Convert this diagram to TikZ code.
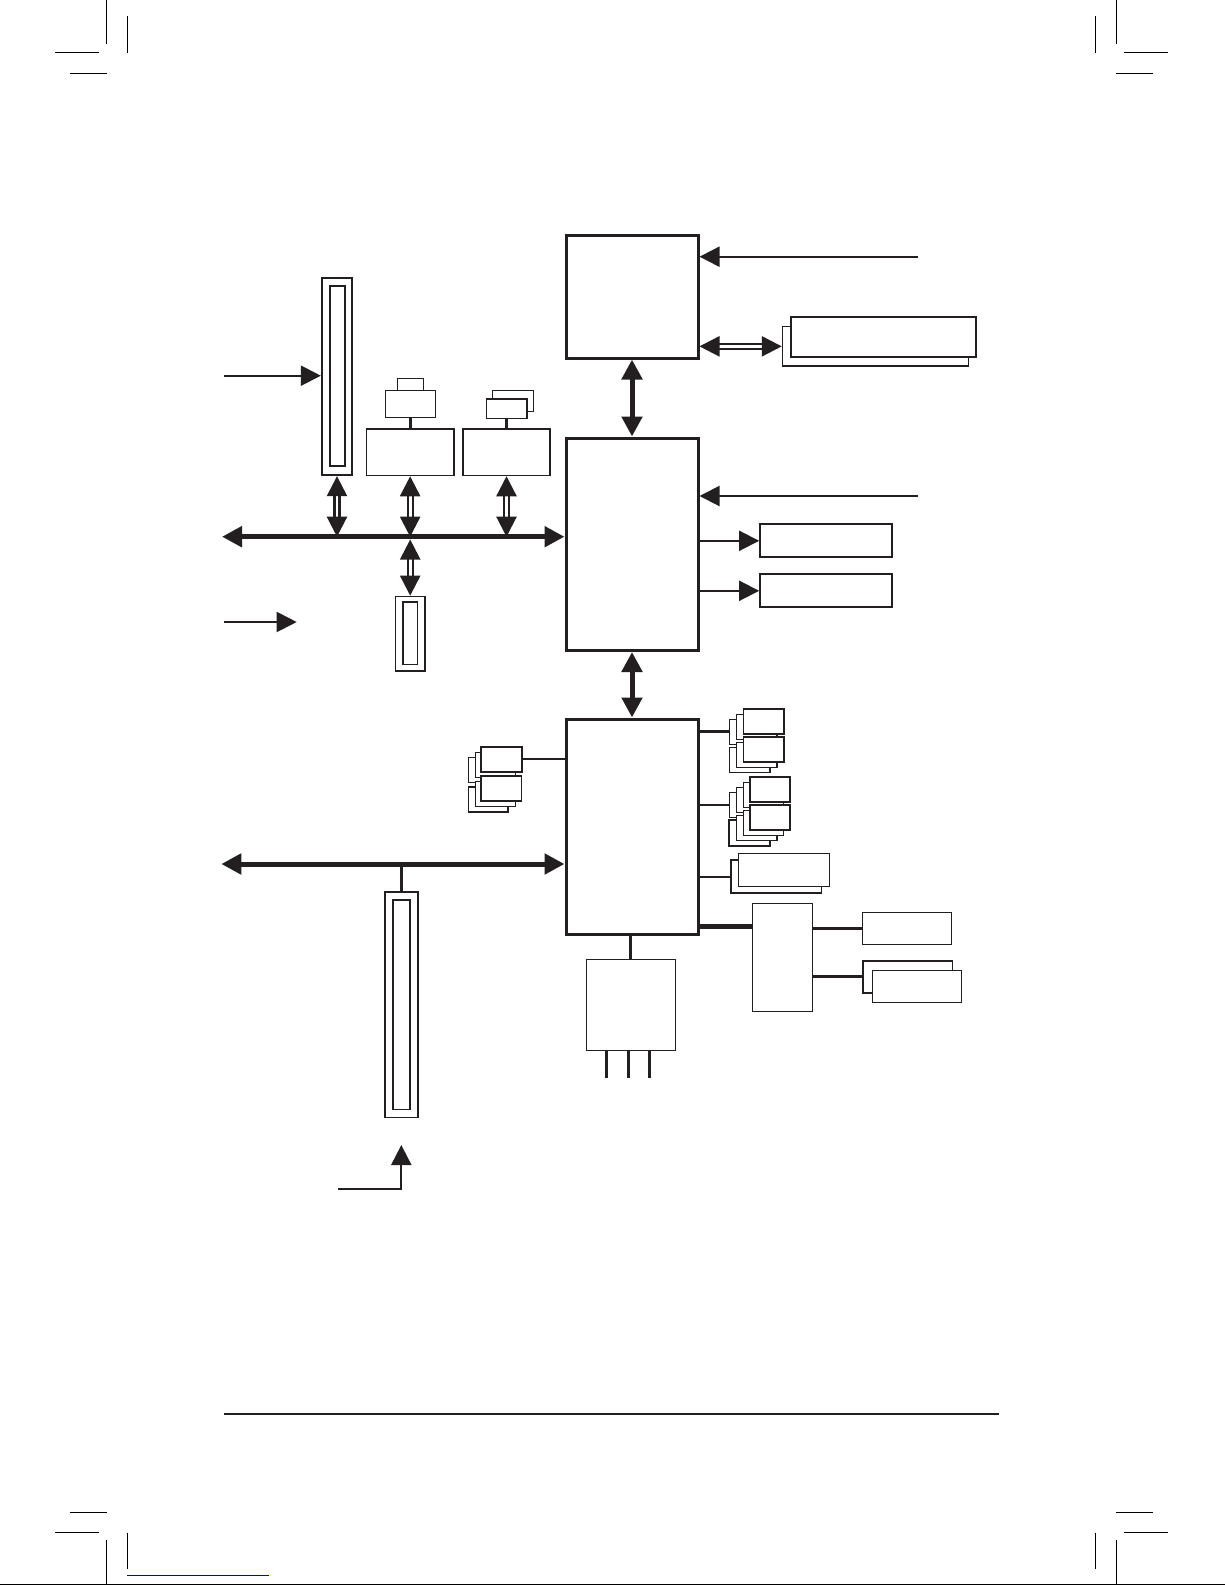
\documentclass[tikz,border=0pt]{standalone}
\usetikzlibrary{arrows.meta,fit}
\definecolor{ink}{RGB}{35,31,32}
\definecolor{lnk}{RGB}{0,0,204}
\newcommand\bx[6][blk]{\node[#1, fit={(#3,#4) (#5,#6)}] (#2) {};}
\begin{document}
\begin{tikzpicture}[x=1pt,y=-1pt,
  >={Triangle[length=20pt,width=20pt]},
  every node/.style={inner sep=0pt},
  chip/.style={draw=ink, line width=3pt, fill=white},
  blk/.style={draw=ink, line width=1.7pt, fill=white},
  mid/.style={draw=ink, line width=1.3pt, fill=white},
  thin/.style={draw=ink, line width=1.1pt, fill=white},
  bus/.style={draw=ink, line width=5pt, <->},
  link/.style={draw=ink, line width=2pt},
  wire/.style={draw=ink, line width=3pt},
  heavy/.style={draw=ink, line width=4.5pt},
  dbl/.style={draw=ink, double=white, line width=2.3pt, double distance=2.7pt, <->},
  fat/.style={draw=ink, line width=5pt, <->},
  crop/.style={draw=black, line width=1pt}]
\useasboundingbox (0,0) rectangle (1225,1585);
\fill[white] (0,0) rectangle (1225,1585);

% crop marks
\draw[crop] (106.7,0) -- (106.7,44);
\draw[crop] (127.3,16) -- (127.3,52.7);
\draw[crop] (55,52.3) -- (99,52.3);
\draw[crop] (70,73.3) -- (106.7,73.3);
\draw[crop] (1095.3,16) -- (1095.3,52.7);
\draw[crop] (1116.7,0) -- (1116.7,44);
\draw[crop] (1124,52.3) -- (1167.7,52.3);
\draw[crop] (1116,73.3) -- (1152.7,73.3);
\draw[crop] (70,1512.3) -- (106.7,1512.3);
\draw[crop] (55,1532.3) -- (99,1532.3);
\draw[crop] (106.7,1540) -- (106.7,1585);
\draw[crop] (127.3,1532.7) -- (127.3,1568.7);
\draw[crop] (1116,1512.3) -- (1152.7,1512.3);
\draw[crop] (1124,1532.3) -- (1167.7,1532.3);
\draw[crop] (1095.3,1532.7) -- (1095.3,1568.7);
\draw[crop] (1116.7,1540) -- (1116.7,1585);
\draw[draw=lnk, line width=1pt] (127.3,1575.3) -- (268.7,1575.3);
\draw[crop] (0,1584.3) -- (1225,1584.3);
\draw[draw=ink, line width=2pt] (224,1413.7) -- (999,1413.7);

% main chips
\bx[chip]{cpu}{566}{235}{698}{358}
\bx[chip]{nb}{566}{438}{698}{650.5}
\bx[chip]{sb}{566}{719}{698}{934.5}
\draw[fat] (cpu.south) -- (nb.north);
\draw[fat] (nb.south) -- (sb.north);

% CPU right side
\coordinate (fsbA) at (917.7,256.7);
\draw[link,->] (fsbA) -- (fsbA -| cpu.east);
\bx[thin]{memb}{782.3}{326.7}{968.3}{366}
\bx[blk]{memf}{791.3}{317.3}{976.3}{356.7}
\draw[dbl] (cpu.east |- memb.west) -- (memb.west);

% NB right side
\coordinate (fsbB) at (917.7,496);
\draw[link,->] (fsbB) -- (fsbB -| nb.east);
\bx[blk]{outX}{760}{524.3}{891.7}{557.3}
\bx[blk]{outY}{760}{574.3}{891.7}{607.3}
\draw[link,->] (nb.east |- outX.west) -- (outX.west);
\draw[link,->] (nb.east |- outY.west) -- (outY.west);

% NB left side
\bx[blk]{slotA}{321.7}{277.7}{352.3}{475.3}
\bx[blk]{slotAi}{329.7}{286.3}{344.7}{466.3}
\coordinate (inA) at (224,375.7);
\draw[link,->] (inA) -- (inA -| slotA.west);
\bx[mid]{devA}{366.3}{429}{454}{475.6}
\bx[thin]{devAtt}{397.8}{378.8}{423.2}{390.8}
\bx[thin]{devAt}{385.8}{390.8}{435.2}{417.8}
\draw[wire] (devAt.south) -- (devAt.south |- devA.north);
\bx[mid]{devB}{463}{429}{550}{475.6}
\bx[thin]{devBb}{492.8}{390.8}{533.2}{411.2}
\bx[blk]{devBf}{486.5}{399}{527}{418.5}
\draw[wire] (devBf.south) -- (devBf.south |- devB.north);
\coordinate (bus1L) at (222,536.7);
\draw[bus] (bus1L) -- (bus1L -| nb.west);
\draw[dbl] (slotA.south) -- (slotA.south |- bus1L);
\draw[dbl] (devA.south) -- (devA.south |- bus1L);
\draw[dbl] (devB.south) -- (devB.south |- bus1L);
\bx[blk]{slotB}{395.5}{596.5}{425}{671}
\bx[blk]{slotBi}{403}{601.7}{417.6}{664.6}
\coordinate (bus1D) at (410.2,539.5);
\draw[dbl] (bus1D) -- (bus1D |- slotB.north);
\coordinate (inB) at (224,622);
\coordinate (inBe) at (296.7,622);
\draw[link,->] (inB) -- (inBe);

% SB left stacked items
\bx[thin]{sl1c}{468.6}{757.7}{508.2}{782.7}
\bx[thin]{sl1b}{475.5}{752.3}{515.4}{777.3}
\bx[blk]{sl1a}{481.3}{746.7}{522}{771.7}
\bx[blk]{sl2c}{468.6}{787.3}{508.2}{812.3}
\bx[thin]{sl2b}{475.5}{781.7}{515.4}{806.7}
\bx[blk]{sl2a}{481.3}{776.3}{521.5}{801.3}
\draw[link] (sl1a.east) -- (sl1a.east -| sb.west);

% SB right group 1
\bx[thin]{g1ac}{729.3}{719.3}{770}{744.3}
\bx[thin]{g1ab}{736.5}{714.3}{777}{739.3}
\bx[blk]{g1aa}{743.4}{709}{784}{733.7}
\bx[thin]{g1bc}{729.3}{747.3}{770}{772.3}
\bx[thin]{g1bb}{736.5}{742.3}{777}{767.3}
\bx[blk]{g1ba}{743.4}{737}{784}{762.3}
\draw[wire] (sb.east |- g1ac.west) -- (g1ac.west);

% SB right group 2
\bx[thin]{g2ad}{729.3}{792.7}{770}{817.7}
\bx[thin]{g2ac}{736.5}{787.3}{777}{812.3}
\bx[thin]{g2ab}{743.4}{782.3}{783.7}{807.3}
\bx[blk]{g2aa}{750.3}{777}{790.2}{802.3}
\bx[blk]{g2bd}{729.3}{820.3}{770}{846}
\bx[thin]{g2bc}{736.5}{815.3}{777}{840.3}
\bx[thin]{g2bb}{743.4}{810.3}{783.7}{835.3}
\bx[blk]{g2ba}{750.3}{805}{790.2}{830}
\draw[link] (sb.east |- g2ad.west) -- (g2ad.west);

% SB right group 3
\bx[blk]{g3b}{731}{860.3}{821.5}{893.3}
\bx[thin]{g3a}{738.2}{853.3}{829.5}{886.7}
\draw[link] (sb.east |- g3b.west) -- (g3b.west);

% LPC chip and its devices
\bx[mid]{sio}{752.3}{903.3}{812.2}{1011.7}
\coordinate (lpcy) at (700,926.3);
\draw[heavy] (lpcy -| sb.east) -- (lpcy -| sio.west);
\bx[mid]{b6}{862.2}{912.3}{951.7}{944.3}
\draw[wire] (sio.east |- b6.west) -- (b6.west);
\bx[blk]{b7b}{863.2}{960.7}{952.4}{993}
\bx[mid]{b7a}{872.2}{970.3}{961.7}{1002.7}
\draw[wire] (sio.east |- b7b.west) -- (b7b.west);

% chip below SB
\bx[mid]{bios}{586.4}{959.3}{675.2}{1050.3}
\draw[wire] (bios.north |- sb.south) -- (bios.north);
\coordinate (leg1) at (606,1077.7);
\coordinate (leg2) at (628.4,1077.7);
\coordinate (leg3) at (649.4,1077.7);
\draw[wire] (leg1 |- bios.south) -- (leg1);
\draw[wire] (leg2 |- bios.south) -- (leg2);
\draw[wire] (leg3 |- bios.south) -- (leg3);

% SB left bus and slot
\coordinate (bus2L) at (221.3,864);
\draw[bus] (bus2L) -- (bus2L -| sb.west);
\bx[blk]{slotC}{385.3}{891.9}{417.7}{1117.4}
\bx[blk]{slotCi}{393.3}{899.9}{409.7}{1109.4}
\draw[wire] (slotC.north |- bus2L) -- (slotC.north);
\coordinate (inC) at (338.3,1188.7);
\coordinate (inCt) at (401.3,1145);
\draw[link,->] (inC) -- (inC -| inCt) -- (inCt);
\end{tikzpicture}
\end{document}
